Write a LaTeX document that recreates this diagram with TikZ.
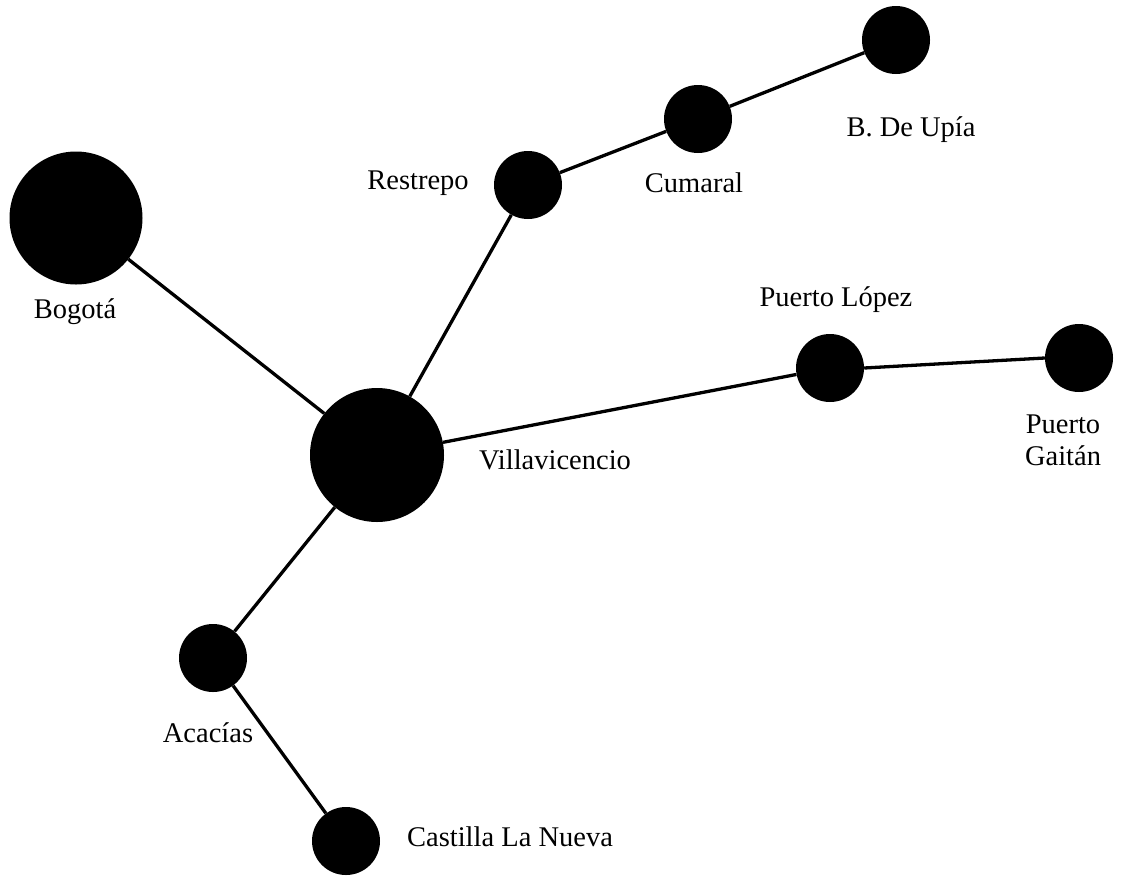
\documentclass[tikz,border=0pt]{standalone}
\usepackage{fontspec}
\setmainfont{Liberation Serif}
\begin{document}
\begin{tikzpicture}[x=1pt,y=-1pt,
  city/.style={circle,fill=black,inner sep=0pt,minimum size=#1},
  link/.style={line width=3.3pt},
  lbl/.style={font=\fontsize{28.5}{32}\selectfont,inner sep=0pt}]
\useasboundingbox (0,0) rectangle (1121,876);
\node[city=133pt] (bog) at (76,218) {};
\node[city=134pt] (vil) at (377,455) {};
\node[city=68pt] (res) at (528,185) {};
\node[city=68pt] (cum) at (698,119) {};
\node[city=68pt] (upi) at (896,40) {};
\node[city=68pt] (plo) at (830,368) {};
\node[city=68pt] (pga) at (1079,358) {};
\node[city=68pt] (aca) at (213,658) {};
\node[city=68pt] (cas) at (346,841) {};
\draw[link] (bog) -- (vil);
\draw[link] (vil) -- (res);
\draw[link] (res) -- (cum);
\draw[link] (cum) -- (upi);
\draw[link] (vil) -- (plo);
\draw[link] (plo.east) -- (pga.west);
\draw[link] (vil) -- (aca);
\draw[link] (aca) -- (cas);
\node[lbl] (lbog) at (75,312) {Bogotá};
\node[lbl] (lvil) at (555,460) {Villavicencio};
\node[lbl] (lres) at (418,183) {Restrepo};
\node[lbl] (lcum) at (694,183) {Cumaral};
\node[lbl] (lupi) at (911,130) {B. De Upía};
\node[lbl] (lplo) at (836,300) {Puerto López};
\node[lbl,align=center] (lpga) at (1063,440) {Puerto\\Gaitán};
\node[lbl] (laca) at (208,733) {Acacías};
\node[lbl] (lcas) at (510,837) {Castilla La Nueva};
\end{tikzpicture}
\end{document}
